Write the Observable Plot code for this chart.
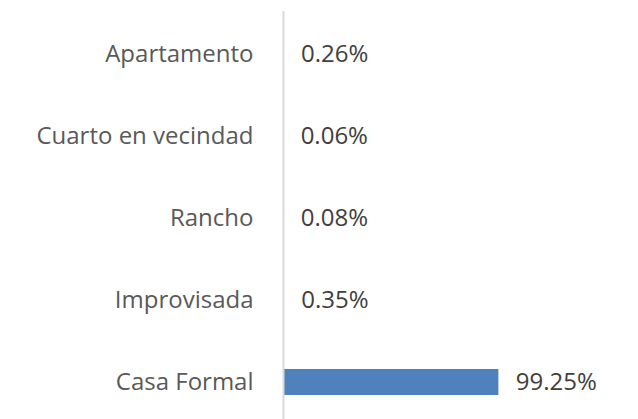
<!DOCTYPE html>
<html>
<head>
<meta charset="utf-8">
<script src="https://cdn.jsdelivr.net/npm/d3@7"></script>
<script src="https://cdn.jsdelivr.net/npm/@observablehq/plot@0.6"></script>
<style>
  html, body { margin: 0; padding: 0; background: #fff; overflow: hidden; }
  #chart { width: 638px; height: 419px; }
</style>
</head>
<body>
<div id="chart"></div>
<script>
const categories = ["Apartamento", "Cuarto en vecindad", "Rancho", "Improvisada", "Casa Formal"];
const values = [0.26, 0.06, 0.08, 0.35, 99.25];
const valueLabels = ["0.26%", "0.06%", "0.08%", "0.35%", "99.25%"];

const data = categories.map((c, i) => ({category: c, value: values[i], label: valueLabels[i]}));

const chart = Plot.plot({
  width: 638,
  height: 419,
  marginTop: 11,
  marginBottom: 0,
  marginLeft: 283,
  marginRight: 138,
  style: {fontFamily: "'Open Sans', sans-serif", fontSize: "24px", color: "#595959", background: "#fff", overflow: "visible"},
  x: {domain: [0, 100], axis: null},
  y: {domain: categories, range: [13, 423], paddingInner: 0.68, paddingOuter: 0.34, label: null},
  marks: [
    Plot.barX(data, {y: "category", x: "value", fill: "#4f81bd"}),
    Plot.ruleX([0], {stroke: "#d9d9d9", strokeWidth: 2}),
    Plot.text(data, {y: "category", x: "value", text: "label", textAnchor: "start", dx: 17, fill: "#404040", fontSize: 24}),
    Plot.axisY({tickSize: 0, tickPadding: 30, fontSize: 24, fill: "#595959", label: null})
  ]
});
document.getElementById("chart").appendChild(chart);
</script>
</body>
</html>
